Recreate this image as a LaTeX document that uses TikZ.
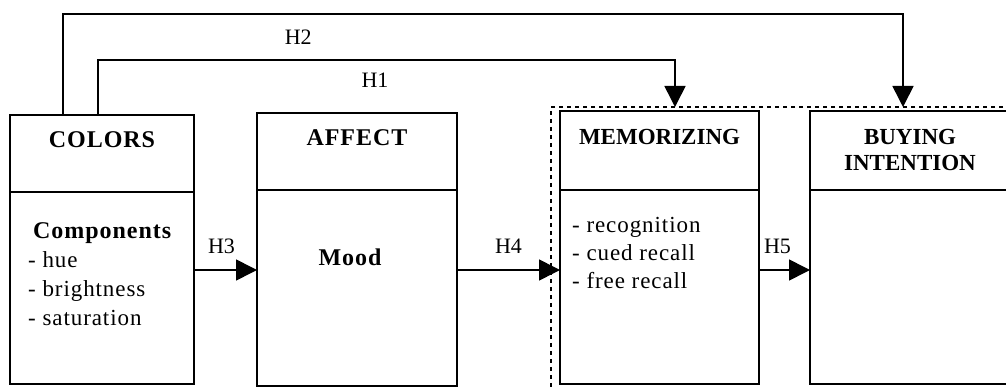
\documentclass[tikz,border=0pt]{standalone}
\usepackage{fontspec}
\setmainfont{Liberation Serif}
\newfontfamily\widefont{Liberation Serif}[LetterSpace=4]
\usetikzlibrary{positioning,arrows.meta}

\begin{document}
\begin{tikzpicture}[x=1pt,y=-1pt]
 \tikzset{arrow/.style={line width=1.6pt,-{Triangle[length=21pt,width=21pt]}},
          box/.style={draw,line width=1.6pt,inner sep=0pt,outer sep=0pt},
          frame/.style={draw,line width=1.4pt,dash pattern=on 4pt off 4pt,inner sep=0pt,outer sep=0pt},
          title/.style={font=\fontsize{24}{26}\selectfont\widefont\bfseries,inner sep=0pt},
          item/.style={font=\fontsize{23}{29}\selectfont\widefont,inner sep=0pt,align=left},
          hyp/.style={font=\fontsize{22}{24}\selectfont}}
 \useasboundingbox (0,0) rectangle (1006,390);

 \node[frame,minimum width=480pt,minimum height=300pt,anchor=north west] (memFrame) at (551,107) {};

 \node[box,minimum width=184pt,minimum height=77pt,anchor=north west] (colorsHead) at (10,115) {};
 \node[box,minimum width=184pt,minimum height=192pt,below=0pt of colorsHead] (colorsBody) {};
 \node[box,minimum width=200pt,minimum height=77pt,anchor=north west] (affectHead) at (257,113) {};
 \node[box,minimum width=200pt,minimum height=196pt,below=0pt of affectHead] (affectBody) {};
 \node[box,minimum width=199pt,minimum height=79pt,anchor=north west] (memHead) at (560,111) {};
 \node[box,minimum width=199pt,minimum height=194pt,below=0pt of memHead] (memBody) {};
 \node[box,minimum width=200pt,minimum height=79pt,anchor=north west] (buyHead) at (810,111) {};
 \node[box,minimum width=200pt,minimum height=194pt,below=0pt of buyHead] (buyBody) {};

 \node[title,anchor=base] (colorsTitle) at ([yshift=-33pt]colorsHead.north) {COLORS};
 \node[title,anchor=base] (affectTitle) at ([yshift=-33pt]affectHead.north) {AFFECT};
 \node[title,anchor=base,font=\fontsize{23}{26}\selectfont\bfseries] (memTitle) at ([yshift=-34pt]memHead.north) {MEMORIZING};
 \node[title,anchor=north,align=center,font=\fontsize{23}{26}\selectfont\bfseries] (buyTitle) at ([yshift=-18pt]buyHead.north) {BUYING\\INTENTION};

 \node[item,anchor=north west] (colorsList) at ([xshift=18pt,yshift=-30pt]colorsBody.north west)
  {\hspace{5pt}{\fontsize{24}{29}\selectfont\bfseries Components}\\- hue\\- brightness\\- saturation};
 \node[title,anchor=base] (mood) at ([xshift=-7pt,yshift=-75pt]affectBody.north) {Mood};
 \node[item,anchor=north west,font=\fontsize{23}{28}\selectfont\widefont] (memList) at ([xshift=12pt,yshift=-27pt]memBody.north west)
  {- recognition\\- cued recall\\- free recall};

 \coordinate (h1bend) at (675,60);
 \coordinate (h2bend) at (903,14);

 \draw[arrow] ([yshift=18pt]colorsBody.east) to node[hyp,above=12pt,xshift=-4pt] (h3) {H3} ([yshift=18pt]affectBody.west);
 \draw[arrow] ([yshift=18pt]affectBody.east) to node[hyp,above=12pt] (h4) {H4} ([yshift=17pt]memBody.west);
 \draw[arrow] ([yshift=17pt]memBody.east) to node[hyp,above=12pt,xshift=-7pt] (h5) {H5} ([yshift=17pt]buyBody.west);
 \draw[arrow] ([xshift=-4pt]colorsHead.north) |- (h1bend) node[hyp,pos=0.74,below=9pt] (h1) {H1} -- (h1bend |- memFrame.north);
 \draw[arrow] ([xshift=-39pt]colorsHead.north) |- (h2bend) node[hyp,pos=0.64,below=12pt] (h2) {H2} -- (h2bend |- memFrame.north);
\end{tikzpicture}
\end{document}
